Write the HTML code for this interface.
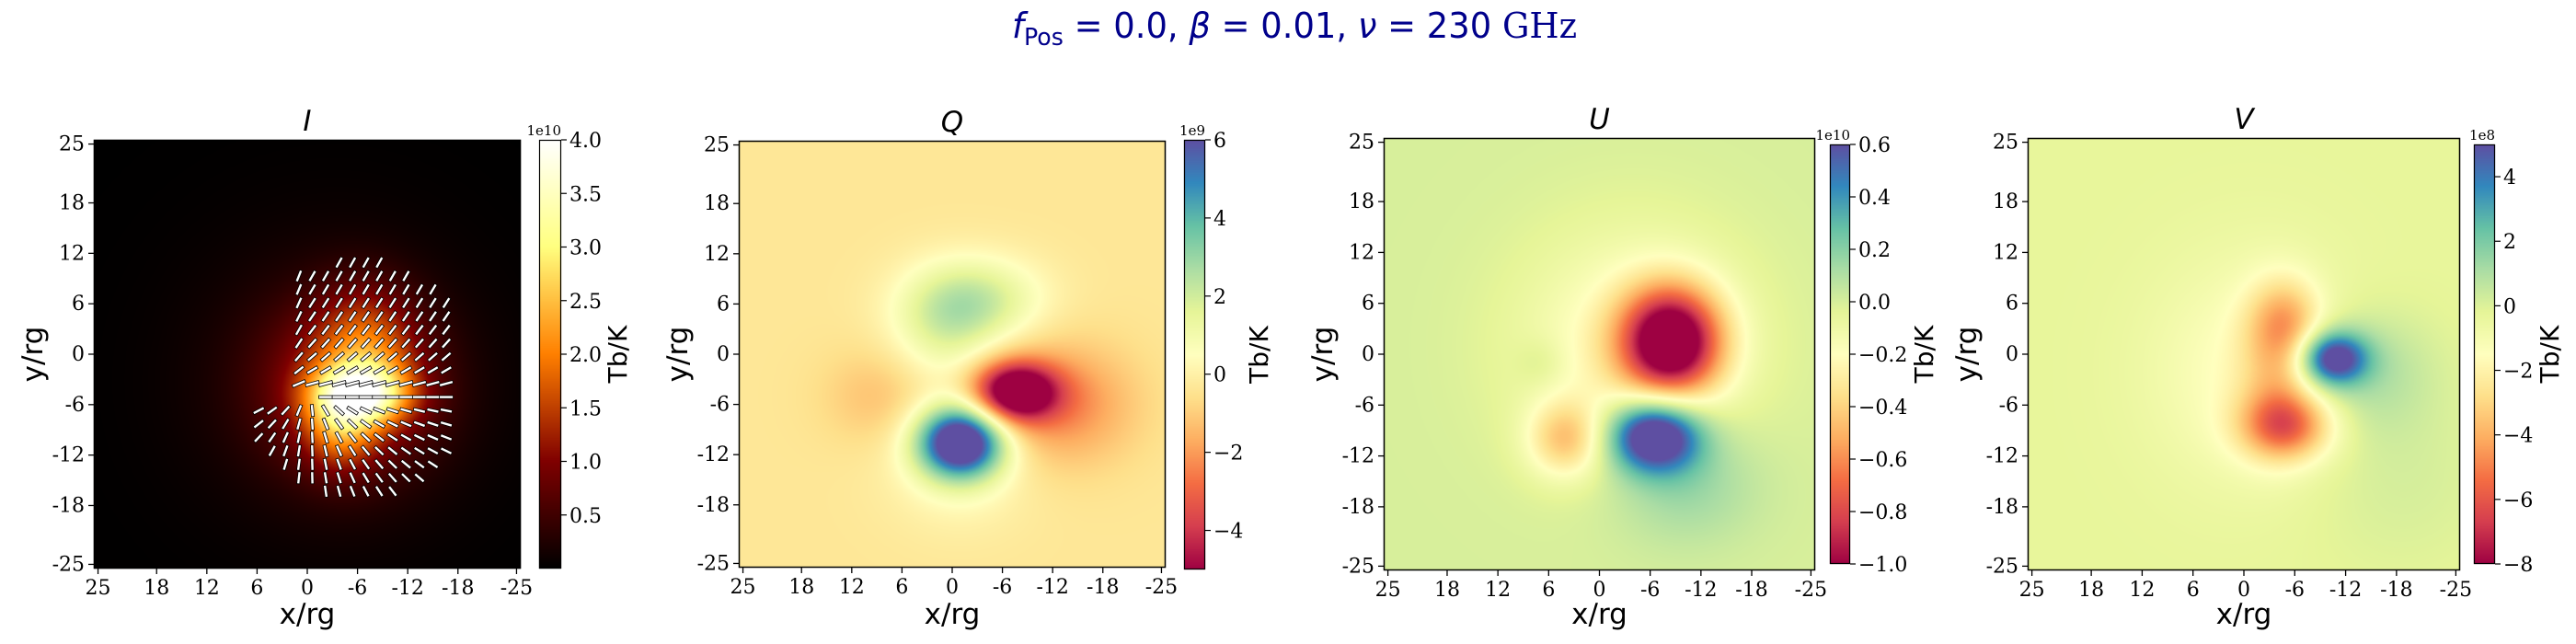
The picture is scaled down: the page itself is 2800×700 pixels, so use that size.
<!DOCTYPE html>
<html><head><meta charset="utf-8"><style>
html,body{margin:0;padding:0;background:#fff;}
#wrap{position:relative;width:2800px;height:700px;overflow:hidden;}
canvas,svg{position:absolute;left:0;top:0;}
</style></head><body>
<div id="wrap">
<canvas id="cv" width="2800" height="700"></canvas>
<svg id="sv" width="2800" height="700" xmlns="http://www.w3.org/2000/svg"></svg>
</div>
<script>
// ---- data ----
const axisTicks = [25, 18, 12, 6, 0, -6, -12, -18, -25];
const axisTickLabels = ["25","18","12","6","0","-6","-12","-18","-25"];
const panelTitles = ["I","Q","U","V"];
const cbMultipliers = ["1e10","1e9","1e10","1e8"];
const cbMin = [0, -5, -1.0, -8];
const cbMax = [4.0, 6, 0.6, 5];
const cbTicksI = [0.5,1.0,1.5,2.0,2.5,3.0,3.5,4.0];
const cbLabelsI = ["0.5","1.0","1.5","2.0","2.5","3.0","3.5","4.0"];
const cbTicksQ = [-4,-2,0,2,4,6];
const cbLabelsQ = ["\u22124","\u22122","0","2","4","6"];
const cbTicksU = [-1.0,-0.8,-0.6,-0.4,-0.2,0.0,0.2,0.4,0.6];
const cbLabelsU = ["\u22121.0","\u22120.8","\u22120.6","\u22120.4","\u22120.2","0.0","0.2","0.4","0.6"];
const cbTicksV = [-8,-6,-4,-2,0,2,4];
const cbLabelsV = ["\u22128","\u22126","\u22124","\u22122","0","2","4"];
// Gaussian components of each map: centre x, centre y, amplitude, sigma x, sigma y
const iCx = [-6.5, -4, -7, -5, -3];
const iCy = [-4.8, -8.5, 0.5, -4, -3];
const iAmp = [2.2, 1.2, 1.1, 1.1, 0.3];
const iSx = [4.0, 3.0, 4.0, 7.0, 12];
const iSy = [2.5, 3.6, 5.0, 7.0, 12];
const qCx = [-1.0, -7.5, -3, 1, 9, -13, -1];
const qCy = [-10.5, -4.5, 6.5, 3, -5, -6, -14];
const qAmp = [8, -6, 2.2, 1.6, -0.9, -2.0, 0.8];
const qSx = [3.6, 3.5, 5.5, 4.5, 4.5, 6.0, 6];
const qSy = [3.0, 2.5, 3.5, 4.5, 4.0, 5.0, 5];
const qBase = -0.35;
const uCx = [-8.5, -6.5, -10, 4, 7, -4];
const uCy = [1.5, -9.5, -15, -10, -1, 1];
const uAmp = [-1.1, 0.9, 0.18, -0.4, 0.08, -0.25];
const uSx = [4.2, 3.8, 6, 3.2, 2, 9];
const uSy = [4.5, 3.0, 5, 3.2, 2, 9];
const uBase = 0.0;
const vCx = [-10.5, -14, -5, -5, -4, -1, -18];
const vCy = [-0.5, -2, -8.5, 4, -2, -2, -14];
const vAmp = [6.0, 1.4, -4.5, -2.5, -2.0, -1.3, 0.5];
const vSx = [2.8, 5.5, 3.8, 3.0, 3.0, 8.0, 8];
const vSy = [2.2, 5.0, 2.8, 3.5, 6.0, 9.0, 8];
const vBase = -0.3;
// polarisation quiver grid (data coords)
const quivCols = [5.8,4.2,2.6,1.0,-0.6,-2.2,-3.8,-5.4,-7.0,-8.6,-10.2,-11.8,-13.4,-15.0,-16.6];
const quivRows = [10.9,9.3,7.7,6.1,4.5,2.9,1.3,-0.3,-1.9,-3.5,-5.1,-6.7,-8.3,-9.9,-11.5,-13.1,-14.7,-16.3];

// ---- layout ----
const panels = [
 {ax:[102,152,566,618], cb:[586,152,610,618], cbl:61},
 {ax:[803,153,1267,617], cb:[1287,152,1310,619], cbl:58},
 {ax:[1504,150,1973,620], cb:[1989,157,2011,613], cbl:80},
 {ax:[2204,150,2674,620], cb:[2689,157,2712,613], cbl:59}
];
const EXT = 25.5;
const SPECTRAL = ["#9e0142","#d53e4f","#f46d43","#fdae61","#fee08b","#ffffbf","#e6f598","#abdda4","#66c2a5","#3288bd","#5e4fa2"].map(h=>[parseInt(h.substr(1,2),16),parseInt(h.substr(3,2),16),parseInt(h.substr(5,2),16)]);
function spectral(t){t=Math.max(0,Math.min(1,t));const s=t*10;const i=Math.min(9,Math.floor(s));const f=s-i;const a=SPECTRAL[i],b=SPECTRAL[i+1];return [a[0]+(b[0]-a[0])*f,a[1]+(b[1]-a[1])*f,a[2]+(b[2]-a[2])*f];}
function afmhot(t){t=Math.max(0,Math.min(1,t));const c=v=>Math.max(0,Math.min(1,v))*255;return [c(2*t),c(2*t-0.5),c(2*t-1)];}
function gsum(cx,cy,amp,sx,sy,base,x,y){let v=base;for(let k=0;k<cx.length;k++){const dx=(x-cx[k])/sx[k],dy=(y-cy[k])/sy[k];v+=amp[k]*Math.exp(-0.5*(dx*dx+dy*dy));}return v;}
const fields = [
 (x,y)=>gsum(iCx,iCy,iAmp,iSx,iSy,0,x,y),
 (x,y)=>gsum(qCx,qCy,qAmp,qSx,qSy,qBase,x,y),
 (x,y)=>gsum(uCx,uCy,uAmp,uSx,uSy,uBase,x,y),
 (x,y)=>gsum(vCx,vCy,vAmp,vSx,vSy,vBase,x,y)
];
const cmaps=[afmhot,spectral,spectral,spectral];
function xScale(p,x){const a=panels[p].ax;return a[0]+(EXT-x)/(2*EXT)*(a[2]-a[0]);}
function yScale(p,y){const a=panels[p].ax;return a[1]+(EXT-y)/(2*EXT)*(a[3]-a[1]);}
function cbScale(p,v){const c=panels[p].cb;return c[3]-(v-cbMin[p])/(cbMax[p]-cbMin[p])*(c[3]-c[1]);}

const cv=document.getElementById('cv');const ctx=cv.getContext('2d');
const img=ctx.createImageData(2800,700);const D=img.data;
for(let p=0;p<4;p++){
 const a=panels[p].ax;const f=fields[p];const cm=cmaps[p];
 for(let py=a[1];py<a[3];py++){
  const y=EXT-(py+0.5-a[1])/(a[3]-a[1])*2*EXT;
  for(let px=a[0];px<a[2];px++){
   const x=EXT-(px+0.5-a[0])/(a[2]-a[0])*2*EXT;
   const v=f(x,y);const c=cm((v-cbMin[p])/(cbMax[p]-cbMin[p]));
   const o=(py*2800+px)*4;D[o]=c[0];D[o+1]=c[1];D[o+2]=c[2];D[o+3]=255;
  }
 }
 const c=panels[p].cb;
 for(let py=c[1];py<c[3];py++){
  const t=1-(py+0.5-c[1])/(c[3]-c[1]);const col=cm(t);
  for(let px=c[0];px<c[2];px++){const o=(py*2800+px)*4;D[o]=col[0];D[o+1]=col[1];D[o+2]=col[2];D[o+3]=255;}
 }
}
for(let i=0;i<D.length;i+=4){if(D[i+3]===0){D[i]=255;D[i+1]=255;D[i+2]=255;D[i+3]=255;}}
ctx.putImageData(img,0,0);

const NS="http://www.w3.org/2000/svg";const sv=document.getElementById('sv');
function el(tag,attrs,parent,text){const e=document.createElementNS(NS,tag);for(const k in attrs)e.setAttribute(k,attrs[k]);if(text!==undefined)e.textContent=text;(parent||sv).appendChild(e);return e;}

const title=el('text',{x:1100,y:41,'font-family':'DejaVu Sans, Liberation Sans, sans-serif','font-size':38,fill:'#00008b',textLength:614,lengthAdjust:'spacingAndGlyphs'});


el('tspan',{'font-style':'italic'},title,'f');
el('tspan',{'font-size':26,dy:8},title,'Pos');
el('tspan',{dy:-8},title,' = 0.0, ');
el('tspan',{'font-style':'italic'},title,'\u03b2');
el('tspan',{},title,' = 0.01, ');
el('tspan',{'font-style':'italic'},title,'\u03bd');
el('tspan',{},title,' = 230 ');
el('tspan',{'font-family':'DejaVu Serif, Liberation Serif, serif'},title,'GHz');

const cbTickSets=[cbTicksI,cbTicksQ,cbTicksU,cbTicksV];
const cbLabelSets=[cbLabelsI,cbLabelsQ,cbLabelsU,cbLabelsV];
const SERIF='DejaVu Serif, Liberation Serif, serif';
const SANS='DejaVu Sans, Liberation Sans, sans-serif';

for(let p=0;p<4;p++){
 const a=panels[p].ax,c=panels[p].cb;
 const g=el('g',{});
 
 
 const fr=el('rect',{x:a[0]+0.5,y:a[1]+0.5,width:a[2]-a[0]-1,height:a[3]-a[1]-1,fill:'none',stroke:'#000','stroke-width':1.5},g);
 
 
 const t=el('text',{x:(a[0]+a[2])/2,y:a[1]-10,'text-anchor':'middle','font-family':SANS,'font-style':'italic','font-size':31},g,panelTitles[p]);
 
 
 for(let i=0;i<axisTicks.length;i++){
  const xp=xScale(p,axisTicks[i]);
  el('line',{x1:xp,y1:a[3],x2:xp,y2:a[3]+6,stroke:'#000','stroke-width':1.3},g);
  const tx=el('text',{x:xp,y:a[3]+28,'text-anchor':'middle','font-family':SERIF,'font-size':22},g,axisTickLabels[i]);
  
  
  const yp=yScale(p,axisTicks[i]);
  el('line',{x1:a[0],y1:yp,x2:a[0]-6,y2:yp,stroke:'#000','stroke-width':1.3},g);
  const ty=el('text',{x:a[0]-10,y:yp+7,'text-anchor':'end','font-family':SERIF,'font-size':22},g,axisTickLabels[i]);
  
  
 }
 const xl=el('text',{x:(a[0]+a[2])/2,y:678,'text-anchor':'middle','font-family':SANS,'font-size':31},g,'x/rg');
 
 
 const yc=(a[1]+a[3])/2;const yx=a[0]-56;
 const yl=el('text',{x:yx,y:yc,'text-anchor':'middle','font-family':SANS,'font-size':31,transform:'rotate(-90 '+yx+' '+yc+')'},g,'y/rg');
 
 
 const cbf=el('rect',{x:c[0]+0.5,y:c[1]+0.5,width:c[2]-c[0]-1,height:c[3]-c[1]-1,fill:'none',stroke:'#000','stroke-width':1.2},g);
 
 
 const tk=cbTickSets[p],lb=cbLabelSets[p];
 for(let i=0;i<tk.length;i++){
  const yp=cbScale(p,tk[i]);
  el('line',{x1:c[2],y1:yp,x2:c[2]+6,y2:yp,stroke:'#000','stroke-width':1.2},g);
  const ct=el('text',{x:c[2]+9,y:yp+8,'font-family':SERIF,'font-size':22},g,lb[i]);
  
  
 }
 const m=el('text',{x:c[2],y:c[1]-5,'text-anchor':'end','font-family':SERIF,'font-size':15},g,cbMultipliers[p]);
 
 
 const lx=c[2]+panels[p].cbl+10;const ly=(c[1]+c[3])/2;
 const cl=el('text',{x:lx,y:ly,'text-anchor':'middle','font-family':SANS,'font-size':28,transform:'rotate(-90 '+lx+' '+ly+')'},g,'Tb/K');
 
 
}

const qg=el('g',{});


for(const yv of quivRows){
 for(const xv of quivCols){
  const dxc=xv+6,dyc=yv+3;
  if(Math.sqrt(dxc*dxc+dyc*dyc)>14.2) continue;
  if(yv>-6 && xv>1.8) continue;
  if(yv>-5.5 && yv<-4.5 && xv>-1.5) continue;
  let ang;
  if(yv>-4.5){ang=62-47*Math.exp(-(yv+3.5)/4); if(xv>0.5) ang+=8;}
  else if(yv>-5.5){ang=0;}
  else {const rx=-(xv+0.3),ry=(yv+3.5);ang=Math.atan2(ry,rx)*180/Math.PI;}
  const px=xScale(0,xv),py=yScale(0,yv);
  const L=(yv>-5.5&&yv<-3)?15:13;
  const r=el('rect',{x:px-L/2,y:py-1.6,width:L,height:3.2,fill:'#fff',stroke:'#000','stroke-width':0.8,transform:'rotate('+(-ang)+' '+px+' '+py+')'},qg);
  
  
 }
}
</script>
</body></html>
